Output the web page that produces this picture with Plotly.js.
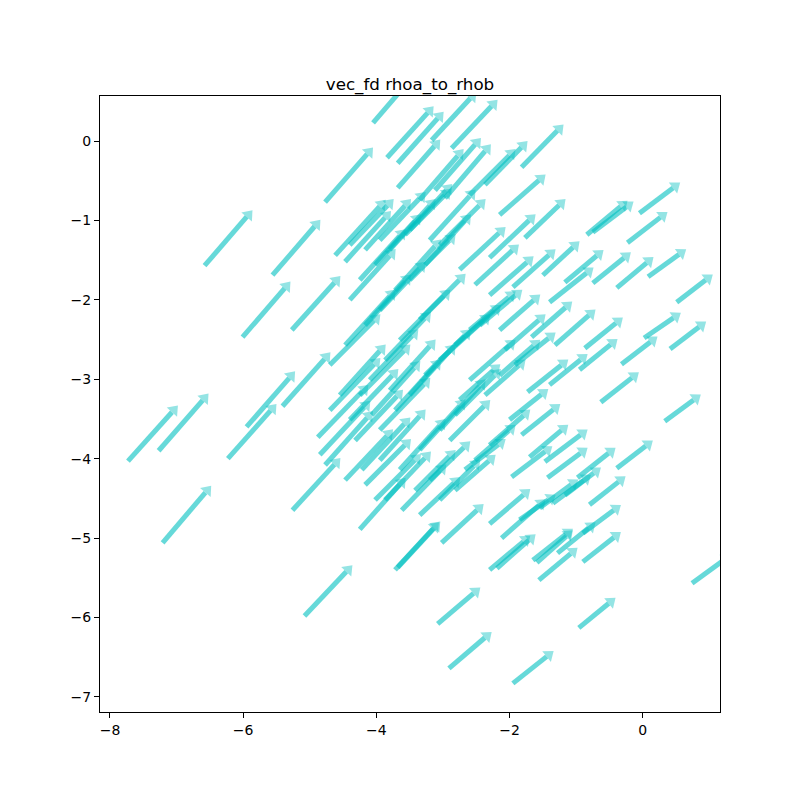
<!DOCTYPE html>
<html>
<head>
<meta charset="utf-8">
<script src="https://cdn.plot.ly/plotly-3.0.1.min.js"></script>
<style>
  body { margin: 0; background: #fff; }
  #chart { width: 800px; height: 800px; }
</style>
</head>
<body>
<div id="chart"></div>
<script>
// quiver tails (x, y) and vector components (u, v)
var tail_x = [
  -7.73, -7.27, -7.21, -6.23, -5.95, -6.58, -5.56, -6.01, -5.27, -5.41,
  -5.26, -5.08, -4.25, -3.72, -3.68, -3.02, -3.08, -2.91, -1.95, -0.96,
  0.74, -1.56, -0.90, -1.65, -1.59, -1.28, -2.19, -2.30, -2.30, -2.12,
  -0.90, -0.39, 0.33, -0.63, -0.32, 0.02, 0.41, 0.51, 0.08, -0.23,
  -0.05, -0.84, -0.75, -1.82, -2.37, -1.77, -2.30, -1.17, -0.39, -0.75,
  -1.95, -1.50, -2.30, -1.40, -1.67, -1.32, -0.87, -0.95, -1.40, -1.73,
  -1.92, -0.98, -1.43, -1.47, -1.97, -1.70, -1.82, -2.00, -1.35, -1.55,
  -1.17, -0.80, -1.85,
  -4.05, -4.77, -3.84, -3.68, -3.68, -2.87, -3.17, -3.12, -2.97, -3.35,
  -3.50, -4.40, -4.62, -4.47, -4.17, -3.95, -2.60, -2.15,
  -4.88, -4.85, -4.77, -4.70, -4.55, -4.40, -4.22, -4.17, -3.95, -3.87,
  -3.65, -3.62, -3.42, -3.35, -3.05, -2.82, -2.67, -2.52, -2.30, -3.95,
  -3.72, -3.50, -4.25, -3.27, -3.05, -2.82, -2.60, -4.70, -4.47, -4.17,
  -3.95, -3.72, -3.50, -3.27, -3.05, -3.87, -3.65, -3.35, -4.40, -4.25,
  -4.02, -3.80, -3.57, -3.20, -2.75, -2.52, -2.45, -2.15, -2.07, -2.60,
  -2.37, -2.15, -2.75, -2.90, -3.20, -3.05, -4.02, -4.47, -3.35, -2.82,
  -4.10, -3.80, -4.32, -4.07
];
var tail_y = [
  -4.03, -3.90, -5.06, -4.00, -3.60, -1.57, -1.69, -2.47, -2.38, -3.34,
  -4.65, -5.98, -4.89, -5.40, -5.37, -5.06, -6.08, -6.64, -6.83, -6.13,
  -5.57, -5.53, -5.30, -5.28, -5.31, -5.19, -5.38, -5.40, -4.82, -5.00,
  -4.94, -4.12, -3.53, -3.29, -2.81, -2.48, -2.62, -2.03, -1.71, -1.28,
  -0.91, -1.18, -1.15, -0.33, -0.55, -1.22, -1.47, -1.78, -1.85, -1.79,
  -1.84, -1.69, -1.94, -2.03, -2.47, -2.57, -2.61, -2.88, -3.07, -3.16,
  -2.82, -4.24, -4.24, -4.04, -4.23, -3.98, -3.70, -3.51, -4.56, -4.62,
  -4.46, -4.58, -4.77,
  0.23, -0.77, -0.21, -0.28, -0.59, -0.09, 0.01, -0.62, -0.72, -0.74,
  -1.12, -1.31, -1.44, -1.52, -1.37, -1.25, -0.68, -0.93,
  -3.73, -3.95, -4.08, -3.39, -3.20, -3.51, -4.14, -4.33, -4.02, -4.52,
  -4.14, -4.65, -4.40, -3.89, -3.64, -3.45, -4.14, -4.02, -3.83, -3.64,
  -3.39, -3.20, -3.20, -2.95, -2.76, -2.57, -2.38, -2.82, -2.57, -2.32,
  -2.13, -1.88, -1.75, -1.56, -1.31, -2.76, -2.51, -2.25, -2.00, -1.75,
  -1.56, -1.37, -1.18, -1.25, -1.62, -1.81, -2.32, -2.38, -2.63, -3.01,
  -3.20, -2.95, -3.26, -3.77, -4.27, -4.52, -4.52, -4.27, -4.71, -4.40,
  -3.01, -3.14, -3.77, -3.45
];
var vec_u = [
  0.74, 0.74, 0.72, 0.72, 0.72, 0.71, 0.71, 0.71, 0.72, 0.71,
  0.71, 0.71, 0.68, 0.65, 0.63, 0.62, 0.63, 0.63, 0.60, 0.54,
  0.57, 0.57, 0.56, 0.59, 0.53, 0.56, 0.57, 0.60, 0.60, 0.65,
  0.56, 0.53, 0.53, 0.56, 0.53, 0.54, 0.53, 0.53, 0.56, 0.59,
  0.60, 0.60, 0.60, 0.62, 0.63, 0.60, 0.68, 0.57, 0.54, 0.56,
  0.63, 0.54, 0.65, 0.65, 0.60, 0.60, 0.56, 0.56, 0.56, 0.60,
  0.60, 0.56, 0.59, 0.63, 0.60, 0.57, 0.57, 0.57, 0.56, 0.57,
  0.53, 0.53, 0.53,
  0.70, 0.71, 0.69, 0.68, 0.63, 0.68, 0.66, 0.68, 0.68, 0.65,
  0.63, 0.65, 0.75, 0.68, 0.68, 0.68, 0.68, 0.68,
  0.75, 0.75, 0.71, 0.75, 0.68, 0.72, 0.72, 0.68, 0.68, 0.68,
  0.68, 0.66, 0.60, 0.68, 0.68, 0.68, 0.60, 0.60, 0.60, 0.75,
  0.68, 0.68, 0.75, 0.68, 0.75, 0.68, 0.68, 0.75, 0.75, 0.68,
  0.68, 0.68, 0.68, 0.68, 0.68, 0.68, 0.75, 0.68, 0.68, 0.68,
  0.68, 0.68, 0.68, 0.68, 0.68, 0.65, 0.63, 0.60, 0.60, 0.68,
  0.60, 0.60, 0.60, 0.60, 0.60, 0.60, 0.68, 0.71, 0.60, 0.60,
  0.72, 0.68, 0.71, 0.72
];
var vec_v = [
  0.69, 0.71, 0.71, 0.68, 0.69, 0.69, 0.69, 0.69, 0.67, 0.67,
  0.65, 0.63, 0.64, 0.59, 0.57, 0.48, 0.45, 0.45, 0.40, 0.37,
  0.35, 0.40, 0.37, 0.39, 0.40, 0.38, 0.42, 0.42, 0.43, 0.48,
  0.35, 0.34, 0.33, 0.37, 0.34, 0.31, 0.34, 0.34, 0.34, 0.38,
  0.38, 0.42, 0.38, 0.53, 0.54, 0.48, 0.54, 0.40, 0.38, 0.38,
  0.47, 0.42, 0.48, 0.43, 0.44, 0.44, 0.38, 0.38, 0.38, 0.40,
  0.40, 0.37, 0.37, 0.40, 0.38, 0.40, 0.38, 0.38, 0.35, 0.35,
  0.34, 0.35, 0.31,
  0.68, 0.68, 0.64, 0.64, 0.60, 0.60, 0.60, 0.65, 0.67, 0.63,
  0.57, 0.57, 0.69, 0.63, 0.63, 0.60, 0.57, 0.50,
  0.65, 0.67, 0.67, 0.65, 0.63, 0.63, 0.65, 0.57, 0.63, 0.60,
  0.63, 0.57, 0.50, 0.63, 0.63, 0.57, 0.38, 0.44, 0.44, 0.65,
  0.63, 0.63, 0.63, 0.57, 0.57, 0.50, 0.48, 0.63, 0.69, 0.63,
  0.60, 0.63, 0.57, 0.63, 0.57, 0.60, 0.63, 0.57, 0.63, 0.63,
  0.63, 0.63, 0.57, 0.63, 0.53, 0.50, 0.44, 0.44, 0.44, 0.50,
  0.44, 0.44, 0.44, 0.50, 0.48, 0.50, 0.57, 0.63, 0.47, 0.44,
  0.63, 0.63, 0.63, 0.67
];

var arrow_color = 'rgba(0,191,191,0.6)';

var traces = [];
for (var i = 0; i < tail_x.length; i++) {
  traces.push({
    type: 'scatter',
    mode: 'lines+markers',
    x: [tail_x[i], tail_x[i] + vec_u[i]],
    y: [tail_y[i], tail_y[i] + vec_v[i]],
    line: {color: arrow_color, width: 5, backoff: 8},
    marker: {
      symbol: 'triangle-up',
      size: [0, 12],
      angleref: 'previous',
      standoff: 5,
      color: arrow_color,
      line: {width: 0}
    },
    hoverinfo: 'skip'
  });
}

var axis_font = {family: 'DejaVu Sans', size: 14, color: '#000'};

var layout = {
  width: 800,
  height: 800,
  showlegend: false,
  hovermode: false,
  paper_bgcolor: '#fff',
  plot_bgcolor: '#fff',
  title: {
    text: 'vec_fd rhoa_to_rhob',
    font: {family: 'DejaVu Sans', size: 16.7, color: '#000'},
    x: 0.5125, xanchor: 'center',
    y: 0.895, yref: 'container', yanchor: 'middle'
  },
  margin: {
    l: 100, //left margin
    r: 80,  //right margin
    t: 96,  //top margin
    b: 88   //bottom margin
  },
  xaxis: {
    range: [-8.15, 1.16],
    tickvals: [-8, -6, -4, -2, 0],
    ticks: 'outside', ticklen: 5, tickwidth: 1, tickcolor: '#000',
    showgrid: false, zeroline: false,
    showline: true, mirror: true, linecolor: '#000', linewidth: 1,
    tickfont: axis_font
  },
  yaxis: {
    range: [-7.19, 0.567],
    tickvals: [-7, -6, -5, -4, -3, -2, -1, 0],
    ticks: 'outside', ticklen: 5, tickwidth: 1, tickcolor: '#000',
    showgrid: false, zeroline: false,
    showline: true, mirror: true, linecolor: '#000', linewidth: 1,
    tickfont: axis_font
  }
};

Plotly.newPlot('chart', traces, layout, {staticPlot: true});
</script>
</body>
</html>
